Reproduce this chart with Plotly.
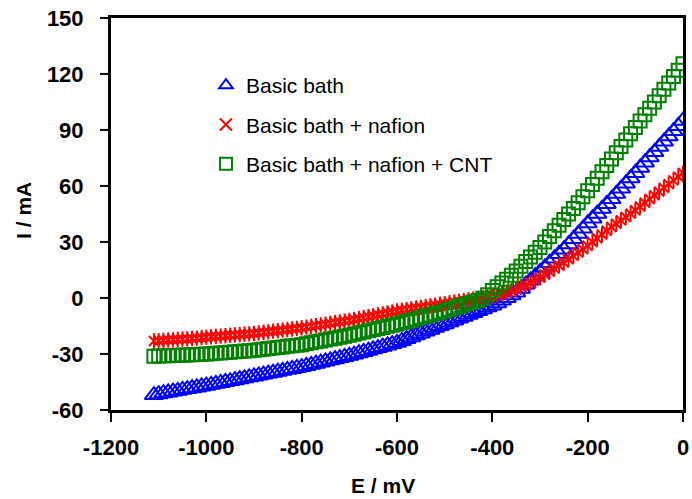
import plotly.graph_objects as go

E_mV = [-1110, -1100, -1090, -1080, -1070, -1060, -1050, -1040, -1030, -1020,
        -1010, -1000, -990, -980, -970, -960, -950, -940, -930, -920,
        -910, -900, -890, -880, -870, -860, -850, -840, -830, -820,
        -810, -800, -790, -780, -770, -760, -750, -740, -730, -720,
        -710, -700, -690, -680, -670, -660, -650, -640, -630, -620,
        -610, -600, -590, -580, -570, -560, -550, -540, -530, -520,
        -510, -500, -490, -480, -470, -460, -450, -440, -430, -420,
        -410, -400, -390, -380, -370, -360, -350, -340, -330, -320,
        -310, -300, -290, -280, -270, -260, -250, -240, -230, -220,
        -210, -200, -190, -180, -170, -160, -150, -140, -130, -120,
        -110, -100, -90, -80, -70, -60, -50, -40, -30, -20,
        -10, 0]

I_basic = [-52.0, -51.5, -51.0, -50.6, -50.1, -49.7, -49.2, -48.8, -48.3, -47.9,
           -47.4, -47.0, -46.5, -46.0, -45.5, -45.0, -44.5, -44.0, -43.5, -43.0,
           -42.5, -42.0, -41.5, -41.0, -40.5, -40.0, -39.5, -39.0, -38.5, -38.0,
           -37.5, -37.0, -36.4, -35.8, -35.2, -34.6, -34.0, -33.4, -32.8, -32.2,
           -31.6, -31.0, -30.3, -29.6, -28.9, -28.2, -27.5, -26.8, -26.1, -25.4,
           -24.7, -24.0, -23.0, -22.0, -21.0, -20.0, -19.0, -18.0, -17.0, -16.0,
           -15.0, -14.0, -13.0, -12.0, -11.0, -10.0, -9.0, -8.0, -7.0, -6.0,
           -5.0, -4.0, -2.8, -1.4, 0.0, 1.5, 3.0, 5.0, 7.2, 9.4,
           11.7, 14.0, 16.4, 18.8, 21.2, 23.6, 26.0, 28.8, 31.6, 34.4,
           37.2, 40.0, 42.6, 45.2, 47.8, 50.4, 53.0, 55.8, 58.6, 61.4,
           64.2, 67.0, 69.8, 72.6, 75.4, 78.2, 81.0, 83.8, 86.6, 89.4,
           92.2, 95.0]

I_nafion = [-23.0, -22.9, -22.7, -22.5, -22.4, -22.2, -22.0, -21.9, -21.7, -21.5,
            -21.2, -21.0, -20.8, -20.6, -20.4, -20.2, -20.0, -19.8, -19.6, -19.4,
            -19.2, -19.0, -18.7, -18.4, -18.1, -17.8, -17.5, -17.2, -16.9, -16.6,
            -16.3, -16.0, -15.6, -15.2, -14.8, -14.4, -14.0, -13.6, -13.2, -12.8,
            -12.4, -12.0, -11.5, -11.0, -10.5, -10.0, -9.5, -9.0, -8.5, -8.0,
            -7.5, -7.0, -6.6, -6.2, -5.8, -5.4, -5.0, -4.6, -4.2, -3.8,
            -3.4, -3.0, -2.6, -2.2, -1.8, -1.4, -1.0, -0.6, -0.2, 0.2,
            0.6, 1.0, 1.6, 2.3, 3.0, 3.9, 4.8, 5.9, 7.0, 8.2,
            9.5, 11.0, 12.6, 14.2, 15.8, 17.4, 19.0, 20.8, 22.6, 24.4,
            26.2, 28.0, 30.0, 32.0, 34.0, 36.0, 38.0, 39.8, 41.6, 43.4,
            45.2, 47.0, 49.0, 51.0, 53.0, 55.0, 57.0, 59.0, 61.0, 63.0,
            65.0, 67.0]

I_cnt = [-31.2, -31.1, -31.0, -30.9, -30.8, -30.7, -30.6, -30.5, -30.4, -30.3,
         -30.1, -30.0, -29.8, -29.6, -29.4, -29.2, -29.0, -28.8, -28.6, -28.4,
         -28.2, -28.0, -27.7, -27.4, -27.1, -26.8, -26.5, -26.2, -25.9, -25.6,
         -25.3, -25.0, -24.5, -24.0, -23.5, -23.0, -22.5, -22.0, -21.5, -21.0,
         -20.5, -20.0, -19.4, -18.8, -18.2, -17.6, -17.0, -16.4, -15.8, -15.2,
         -14.6, -14.0, -13.3, -12.6, -11.9, -11.2, -10.5, -9.8, -9.1, -8.4,
         -7.7, -7.0, -6.2, -5.4, -4.6, -3.8, -3.0, -2.2, -1.3, -0.2,
         1.8, 4.0, 6.0, 8.0, 10.0, 12.2, 14.5, 17.0, 19.5, 22.0,
         24.5, 27.0, 30.0, 33.0, 36.0, 39.0, 42.0, 45.0, 48.0, 51.0,
         54.2, 57.4, 60.8, 64.2, 67.6, 71.0, 74.4, 77.8, 81.2, 84.6,
         88.0, 91.4, 94.8, 98.2, 101.6, 105.0, 108.4, 111.8, 115.2, 118.6,
         122.0, 125.5]

names = ["Basic bath", "Basic bath + nafion", "Basic bath + nafion + CNT"]
x_ticks = [-1200, -1000, -800, -600, -400, -200, 0]
x_tick_text = ["-1200", "-1000", "-800", "-600", "-400", "-200", "0"]
y_ticks = [-60, -30, 0, 30, 60, 90, 120, 150]
y_tick_text = ["-60", "-30", "0", "30", "60", "90", "120", "150"]
x_title = "E / mV"
y_title = "I / mA"

FONT = "Liberation Sans, Arial, sans-serif"

fig = go.Figure()
fig.add_trace(go.Scatter(
    x=E_mV, y=I_basic, mode="markers", name=names[0], legendgroup="g1",
    marker=dict(symbol="triangle-up-open", size=16, color="#0000FF",
                line=dict(width=2, color="#0000FF"))))
fig.add_trace(go.Scatter(
    x=E_mV, y=I_nafion, mode="markers", name=names[1], legendgroup="g2",
    marker=dict(symbol="x-thin-open", size=10, color="#FF0000",
                line=dict(width=2, color="#FF0000"))))
fig.add_trace(go.Scatter(
    x=E_mV, y=I_nafion, mode="markers", name=names[1], legendgroup="g2",
    showlegend=False,
    marker=dict(symbol="line-ns-open", size=11, color="#FF0000",
                line=dict(width=2, color="#FF0000"))))
fig.add_trace(go.Scatter(
    x=E_mV, y=I_cnt, mode="markers", name=names[2], legendgroup="g3",
    marker=dict(symbol="square-open", size=13, color="#008000",
                line=dict(width=2, color="#008000"))))

title_font = dict(family=FONT, size=21, weight="bold", color="black")

# plot area: 111..689 px horizontally, 18..410 px vertically
fig.update_layout(
    width=692, height=499,
    margin=dict(l=111, r=3, t=18, b=89),
    paper_bgcolor="white", plot_bgcolor="white",
    font=dict(family=FONT, color="black"),
    showlegend=True,
    legend=dict(x=0.166, y=0.88, xanchor="left", yanchor="top",
                bgcolor="rgba(0,0,0,0)", borderwidth=0,
                font=dict(family=FONT, size=21, color="black"),
                tracegroupgap=9, traceorder="grouped", itemsizing="constant"),
    xaxis=dict(range=[-1200, 0], tickvals=x_ticks, ticktext=x_tick_text,
               showgrid=False, zeroline=False,
               showline=True, linecolor="black", linewidth=3, mirror=True,
               ticks="outside", ticklen=9, tickwidth=2, tickcolor="black",
               ticklabelstandoff=7, ticklabeloverflow="allow",
               tickfont=dict(family=FONT, size=22, weight="bold", color="black")),
    yaxis=dict(range=[-60, 150], tickvals=y_ticks, ticktext=y_tick_text,
               showgrid=False, zeroline=False,
               showline=True, linecolor="black", linewidth=3, mirror=True,
               ticks="outside", ticklen=8, tickwidth=2, tickcolor="black",
               ticklabelstandoff=12, ticklabeloverflow="allow",
               tickfont=dict(family=FONT, size=22, weight="bold", color="black")),
    annotations=[
        dict(text=x_title, xref="paper", yref="paper",
             x=(386 - 111) / 578, y=1 - (485 - 18) / 392,
             xanchor="center", yanchor="middle", showarrow=False, font=title_font),
        dict(text=y_title, xref="paper", yref="paper",
             x=(22 - 111) / 578, y=1 - (210 - 18) / 392,
             xanchor="center", yanchor="middle", showarrow=False, textangle=-90,
             font=title_font),
    ],
)

fig.write_html("out.html")
